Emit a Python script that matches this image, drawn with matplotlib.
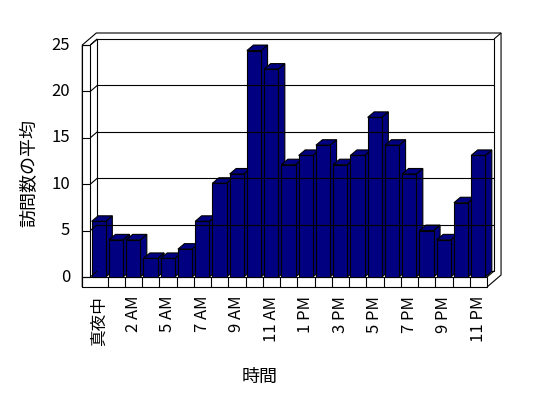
import numpy as np
import matplotlib
matplotlib.use("Agg")
import matplotlib.pyplot as plt
from matplotlib.patches import Polygon

plt.rcParams['font.family'] = ['Noto Sans CJK JP', 'DejaVu Sans']

# hours (4 AM has no data in the source)
hours = ['真夜中', '1 AM', '2 AM', '3 AM', '5 AM', '6 AM', '7 AM', '8 AM',
         '9 AM', '10 AM', '11 AM', '12 PM', '1 PM', '2 PM', '3 PM', '4 PM',
         '5 PM', '6 PM', '7 PM', '8 PM', '9 PM', '10 PM', '11 PM']
visits = [6.0, 4.0, 4.0, 2.0, 2.0, 3.0, 6.0, 10.1, 11.1, 24.4, 22.4, 12.1,
          13.1, 14.2, 12.1, 13.1, 17.2, 14.2, 11.1, 5.0, 4.0, 8.0, 13.1]
yticks = [0, 5, 10, 15, 20, 25]
ymax = 25

navy = '#000080'
lw = 0.8
n = len(visits)

# pixel -> data mapping of the front plane (category units / value units)
px_cat = 17.25
px_val = 9.28
x0_px, y0_px = 90.3, 277.0

fig = plt.figure(figsize=(5.48, 3.98), dpi=100)
ax = fig.add_axes([0, 0, 1, 1])
ax.set_xlim(-x0_px / px_cat, (548 - x0_px) / px_cat)
ax.set_ylim(-(398 - y0_px) / px_val, y0_px / px_val)
ax.axis('off')

DX, DY = 7 / px_cat, 6 / px_val          # depth of walls
BDX, BDY = 6.5 / px_cat, 5.5 / px_val    # depth of bars
wt = 8 / px_cat                          # left wall thickness
ft = 10 / px_val                         # floor thickness


def line(xs, ys):
    ax.plot(xs, ys, color='black', lw=lw, solid_capstyle='butt')


def poly(pts, fc):
    ax.add_patch(Polygon(pts, closed=True, facecolor=fc, edgecolor='black', lw=lw,
                         joinstyle='miter'))


# back wall with thickness
poly([(-wt, ymax), (-wt + 2 * DX, ymax + 2 * DY), (n + 2 * DX, ymax + 2 * DY),
      (n + 2 * DX, -ft + 2 * DY), (n, -ft), (-wt, -ft)], 'white')
poly([(DX, DY), (DX, ymax + DY), (n + DX, ymax + DY), (n + DX, DY)], 'white')
line([0, DX], [ymax, ymax + DY])
line([n + DX, n + 2 * DX], [ymax + DY, ymax + 2 * DY])
line([n, n + DX], [0, DY])

# gridlines on back wall and left wall
for v in yticks[1:-1]:
    line([DX, n + DX], [v + DY, v + DY])
for v in yticks:
    line([0, DX], [v, v + DY])
    line([-wt, 0], [v, v])

# left wall front face + floor front face
line([-wt, -wt], [ymax, -ft])
line([0, 0], [ymax, 0])
line([-wt, 0], [ymax, ymax])
poly([(-wt, -ft), (n, -ft), (n, 0), (-wt, 0)], 'white')
for i in range(1, n):
    line([i, i], [-ft, 0])

# bars
bw, boff = 0.82, 0.08
for i, v in enumerate(visits):
    xl = i + boff
    xr = xl + bw
    poly([(xr, 0), (xr + BDX, BDY), (xr + BDX, v + BDY), (xr, v)], navy)
    poly([(xl, v), (xr, v), (xr + BDX, v + BDY), (xl + BDX, v + BDY)], navy)
    poly([(xl, 0), (xr, 0), (xr, v), (xl, v)], navy)

# tick labels
for v in yticks:
    ax.text(-wt - 12 / px_cat, v, str(v), ha='right', va='center', fontsize=12)
for i in range(0, n, 2):
    ax.text(i + 0.5, -ft - 9 / px_val, hours[i], rotation=90, ha='center',
            va='top', fontsize=12)

ax.text((260 - x0_px) / px_cat, (y0_px - 377) / px_val, '時間', ha='center',
        va='center', fontsize=13)
ax.text((29 - x0_px) / px_cat, (y0_px - 173) / px_val, '訪問数の平均', rotation=90,
        ha='center', va='center', fontsize=13)

fig.savefig('out.png', dpi=100)
